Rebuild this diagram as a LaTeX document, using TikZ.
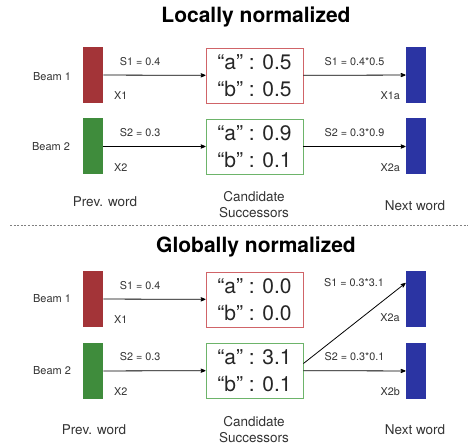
\documentclass[tikz,border=0pt]{standalone}
\usepackage{fontspec}
\setmainfont{TeX Gyre Heros}
\usetikzlibrary{arrows, positioning}

\definecolor{barred}{HTML}{A33438}
\definecolor{bargreen}{HTML}{3F8C3C}
\definecolor{barblue}{HTML}{2B34A3}
\definecolor{boxred}{HTML}{D06468}
\definecolor{boxgreen}{HTML}{6DB46A}
\definecolor{txtgray}{HTML}{333333}

\begin{document}
\begin{tikzpicture}[x=1pt, y=-1pt, >=stealth', thick]
    \tikzstyle{bar}=[rectangle, minimum width=20pt, minimum height=56pt, inner sep=0pt]
    \tikzstyle{cand}=[rectangle, draw, line width=0.9pt, minimum width=97pt, minimum height=55pt,
                      align=center, font=\fontsize{21}{27}\selectfont, text=black!85, inner sep=0pt]
    \tikzstyle{title}=[font=\fontsize{21}{24}\selectfont\bfseries]
    \tikzstyle{beam}=[font=\fontsize{11}{13}\selectfont, text=txtgray]
    \tikzstyle{lab}=[font=\fontsize{10.8}{12}\selectfont, text=txtgray]
    \tikzstyle{col}=[font=\fontsize{13.5}{16}\selectfont, text=txtgray, align=center]
    \tikzstyle{every path}=[->, line width=0.8pt, black]

    \useasboundingbox (0,0) rectangle (468,446);

    % locally normalized
    \node[title] (t1) at (256,17) {Locally normalized};

    \node[bar, fill=barred]   (p1) at (93,75)    {};
    \node[bar, fill=bargreen] (p2) at (93,146.5) {};
    \node[cand, draw=boxred]   (c1) at (254.5,75.5)  {“a” : 0.5\\“b” : 0.5};
    \node[cand, draw=boxgreen] (c2) at (254.5,146.5) {“a” : 0.9\\“b” : 0.1};
    \node[bar, fill=barblue]  (n1) at (416,75)    {};
    \node[bar, fill=barblue]  (n2) at (416,146.5) {};

    \node[beam] (b1) at (52,77)  {Beam 1};
    \node[beam] (b2) at (51,147) {Beam 2};

    \path (p1) edge node[lab, above=6pt, pos=0.36] {S1 = 0.4}
                    node[lab, below=13pt, pos=0.17] {X1} (c1)
          (c1) edge node[lab, above=6pt] {S1 = 0.4*0.5}
                    node[lab, below=13pt, pos=0.85] {X1a} (n1)
          (p2) edge node[lab, above=6pt, pos=0.36] {S2 = 0.3}
                    node[lab, below=13pt, pos=0.17] {X2} (c2)
          (c2) edge node[lab, above=6pt] {S2 = 0.3*0.9}
                    node[lab, below=13pt, pos=0.85] {X2a} (n2);

    \node[col] (w1) at (105,202) {Prev. word};
    \node[col] (w2) at (254,205) {Candidate\\Successors};
    \node[col] (w3) at (415,206) {Next word};

    % separator
    \coordinate (d1) at (10,225);
    \coordinate (d2) at (468,225);
    \draw[-, line width=0.7pt, gray, dash pattern=on 2pt off 1.6pt] (d1) -- (d2);

    % globally normalized
    \node[title] (t2) at (256,247) {Globally normalized};

    \node[bar, fill=barred]   (p3) at (93,299) {};
    \node[bar, fill=bargreen] (p4) at (93,371) {};
    \node[cand, draw=boxred]   (c3) at (254.5,299.5) {“a” : 0.0\\“b” : 0.0};
    \node[cand, draw=boxgreen] (c4) at (254.5,370.5) {“a” : 3.1\\“b” : 0.1};
    \node[bar, fill=barblue]  (n3) at (416,299) {};
    \node[bar, fill=barblue]  (n4) at (416,371) {};

    \node[beam] (b3) at (52,299) {Beam 1};
    \node[beam] (b4) at (52,371) {Beam 2};

    \path (p3) edge node[lab, above=6pt, pos=0.36] {S1 = 0.4}
                    node[lab, below=13pt, pos=0.17] {X1} (c3)
          (p4) edge node[lab, above=6pt, pos=0.36] {S2 = 0.3}
                    node[lab, below=13pt, pos=0.17] {X2} (c4)
          (c4) edge node[lab, above=6pt] {S2 = 0.3*0.1}
                    node[lab, below=13pt, pos=0.85] {X2b} (n4)
          ([yshift=7pt]c4.east) edge ([yshift=16pt]n3.west);

    \node[lab] (s5) at (354,283) {S1 = 0.3*3.1};
    \node[lab] (x5) at (390,318) {X2a};

    \node[col] (w4) at (94,430)  {Prev. word};
    \node[col] (w5) at (254,430) {Candidate\\Successors};
    \node[col] (w6) at (415,430) {Next word};
\end{tikzpicture}
\end{document}
